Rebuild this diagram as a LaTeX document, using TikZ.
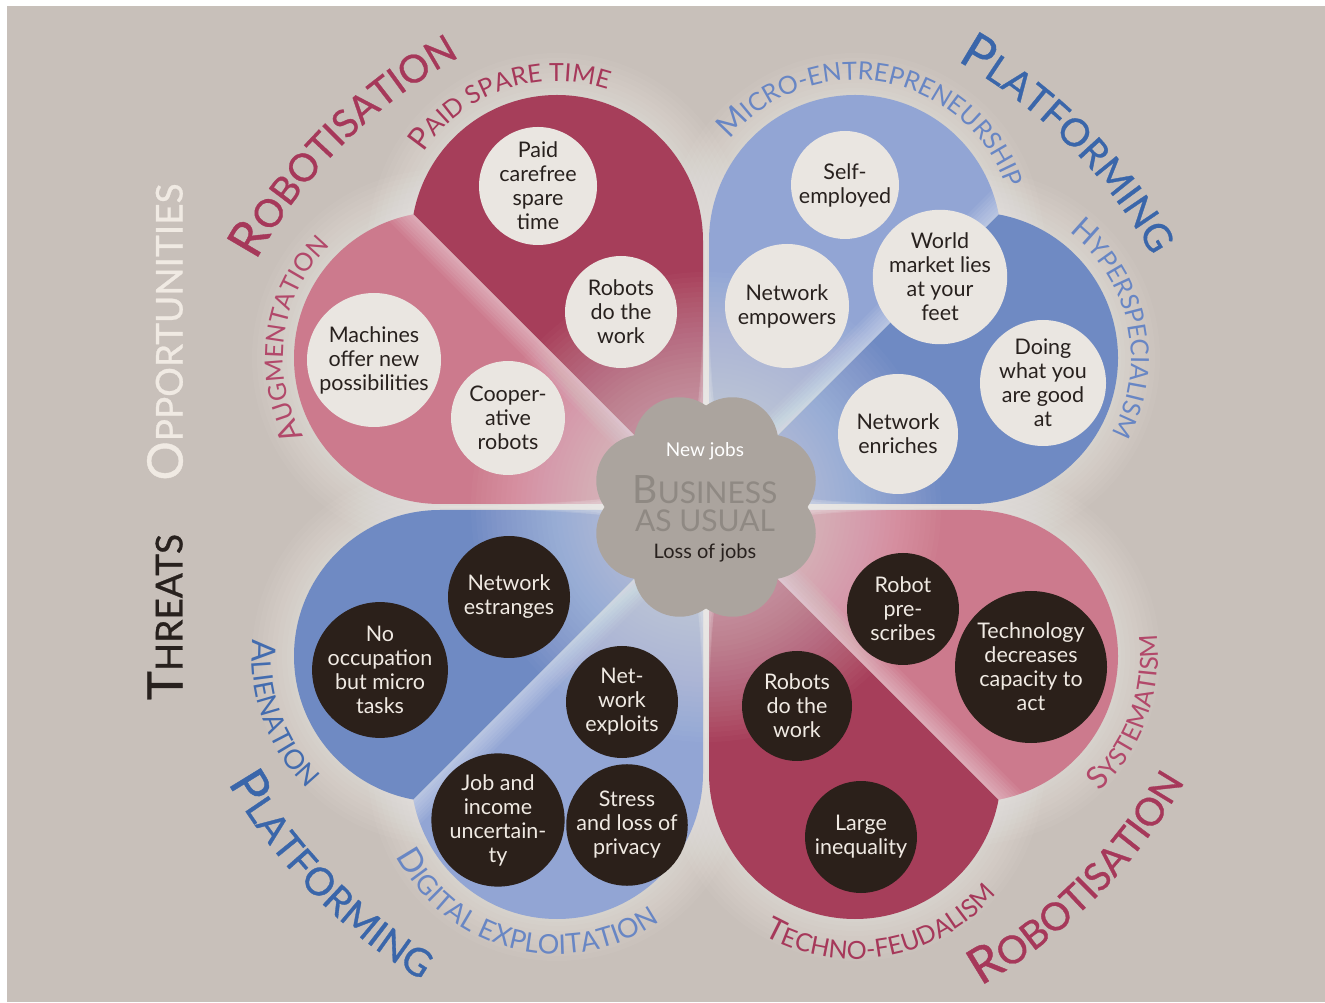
\documentclass[tikz,border=0pt]{standalone}
\usepackage{fontspec}
\setmainfont{Lato}
\newfontfamily\tfont{Lato}[FakeBold=0.8]
\usetikzlibrary{decorations.text}
\definecolor{bgc}{RGB}{200,192,186}
\definecolor{dred}{RGB}{166,62,90}
\definecolor{pinkc}{RGB}{204,122,141}
\definecolor{lblue}{RGB}{146,165,212}
\definecolor{mblue}{RGB}{111,138,195}
\definecolor{lightc}{RGB}{234,230,225}
\definecolor{darkc}{RGB}{43,32,26}
\definecolor{cloudc}{RGB}{171,164,158}
\definecolor{busc}{RGB}{143,137,131}
\definecolor{tred}{RGB}{166,56,90}
\definecolor{tpink}{RGB}{178,72,106}
\definecolor{tblue}{RGB}{58,102,170}
\definecolor{lbtxt}{RGB}{104,134,196}
\definecolor{txtlight}{RGB}{240,234,227}
\definecolor{txtdark}{RGB}{40,33,30}
\newcommand\TB{\tfont\fontsize{50}{50}\selectfont}
\newcommand\TS{\tfont\fontsize{38.5}{38.5}\selectfont}
\newcommand\LB{\fontsize{31}{31}\selectfont}
\newcommand\LS{\fontsize{25}{25}\selectfont}
\newcommand\LBB{\fontsize{33}{33}\selectfont}
\newcommand\LSS{\fontsize{27}{27}\selectfont}
\newcommand\OB{\tfont\fontsize{49}{49}\selectfont}
\newcommand\OS{\tfont\fontsize{37}{37}\selectfont}
\newcommand\ctext{\fontsize{21.5}{24}\selectfont}
\newcommand\lobeV{(-3,3) -- (-3,266) arc[start angle=0,end angle=169.5,radius=146] -- cycle}
\newcommand\lobeH{(-3,3) -- (-266,3) arc[start angle=270,end angle=100.5,radius=146] -- cycle}
\newcommand\diagband{\foreach \w in {44,38,32,26,20,14,8,4}{\draw[white,line width=\w,opacity=0.06] (0,0) -- (-320,320);}}
\tikzset{
  lc/.style={circle, fill=lightc, text=txtdark, align=center, inner sep=0pt, font=\ctext},
  dc/.style={circle, fill=darkc, text=txtlight, align=center, inner sep=0pt, font=\ctext},
}
\begin{document}
\begin{tikzpicture}[x=1pt,y=1pt]
\useasboundingbox (0,0) rectangle (1325,1002);
\fill[white] (0,0) rectangle (1325,1002);
\fill[bgc] (7,0) rectangle (1325,996);
\coordinate (C) at (706,495);
% halos
\foreach \sx/\sy in {1/1,-1/1,1/-1,-1/-1}{
 \begin{scope}[shift={(706,495)}, xscale=\sx, yscale=\sy]
  \foreach \w in {84,74,64,54,44,34,24,14,6}{
    \draw[white, line width=\w, opacity=0.045] \lobeV;
    \draw[white, line width=\w, opacity=0.045] \lobeH;
  }
 \end{scope}}
% petals
\begin{scope}[shift={(706,495)}]
 \fill[dred] \lobeV; \fill[pinkc] \lobeH;
 \begin{scope}\clip \lobeH; \diagband \end{scope}
\end{scope}
\begin{scope}[shift={(706,495)}, xscale=-1]
 \fill[lblue] \lobeV; \fill[mblue] \lobeH;
 \begin{scope}\clip \lobeV; \diagband \end{scope}
\end{scope}
\begin{scope}[shift={(706,495)}, yscale=-1]
 \fill[lblue] \lobeV; \fill[mblue] \lobeH;
 \begin{scope}\clip \lobeV; \diagband \end{scope}
\end{scope}
\begin{scope}[shift={(706,495)}, xscale=-1, yscale=-1]
 \fill[dred] \lobeV; \fill[pinkc] \lobeH;
 \begin{scope}\clip \lobeH; \diagband \end{scope}
\end{scope}
% center glow
\foreach \r in {105,110,...,235} \fill[white, opacity=0.022] (C) circle (\r);
% axis glow (tapered)
\foreach \l/\w in {320/5,280/9,240/13,200/17,170/21,140/25,120/29}{
  \fill[white, opacity=0.07] ([yshift=\l]C) -- ([xshift=\w]C) -- ([yshift=-\l]C) -- ([xshift=-\w]C) -- cycle;
  \fill[white, opacity=0.07] ([xshift=\l]C) -- ([yshift=\w]C) -- ([xshift=-\l]C) -- ([yshift=-\w]C) -- cycle;
}
% circles TL
\node[lc, minimum size=118] (pc) at (538,816) {Paid\\carefree\\spare\\time};
\node[lc, minimum size=112] (rw1) at (621,690) {Robots\\do the\\work};
\node[lc, minimum size=134] (mach) at (374,642) {Machines\\offer new\\possibilities};
\node[lc, minimum size=114] (coop) at (508,584) {Cooper-\\ative\\robots};
% TR
\node[lc, minimum size=108] (self) at (845,817) {Self-\\employed};
\node[lc, minimum size=134] (world) at (940,725) {World\\market lies\\at your\\feet};
\node[lc, minimum size=124] (nemp) at (787,696) {Network\\empowers};
\node[lc, minimum size=126] (doing) at (1043,619) {Doing\\what you\\are good\\at};
\node[lc, minimum size=120] (nenr) at (898,568) {Network\\enriches};
% BL
\node[dc, minimum size=122] (nest) at (509,405) {Network\\estranges};
\node[dc, minimum size=130] (nocc) at (380,332) {No\\occupation\\but micro\\tasks};
\node[dc, minimum size=112] (nexp) at (622,300) {Net-\\work\\exploits};
\node[dc, minimum size=132] (job) at (498,182) {Job and\\income\\uncertain-\\ty};
\node[dc, minimum size=120] (stress) at (627,177) {Stress\\and loss of\\privacy};
% BR
\node[dc, minimum size=112] (rpre) at (903,393) {Robot\\pre-\\scribes};
\node[dc, minimum size=152] (tech) at (1031,335) {Technology\\decreases\\capacity to\\act};
\node[dc, minimum size=110] (rw2) at (797,296) {Robots\\do the\\work};
\node[dc, minimum size=112] (large) at (861,165) {Large\\inequality};
% cloud
\fill[cloudc] (C) circle (82);
\foreach \a in {22.5,67.5,...,337.5} \fill[cloudc] ([shift={(\a:69)}]C) circle (46);
\node[text=white, font=\fontsize{19}{19}\selectfont] (newjobs) at (705,551) {New jobs};
\node[text=busc] (bus) at (705,512) {{\fontsize{39}{39}\selectfont B}{\fontsize{30}{30}\selectfont USINESS}};
\node[text=busc, font=\fontsize{30}{30}\selectfont] (asu) at (705,481) {AS USUAL};
\node[text=txtdark, font=\fontsize{20}{20}\selectfont] (loss) at (705,449) {Loss of jobs};
% left labels
\node[rotate=90, text=txtlight] (opp) at (165,670) {{\OB O}{\OS PPORTUNITIES}};
\node[rotate=90, text=txtdark] (thr) at (165,385) {{\OB T}{\OS HREATS}};
% titles
\path[decorate, decoration={text along path, text align=center, text color=tred, text={|\TB|R|\TS|OBOTISATION}}] ([shift={(170:513)}]C) arc[start angle=170, end angle=100, radius=513];
\path[decorate, decoration={text along path, text align=center, text color=tblue, text={|\TB|P|\TS|LATFORMING}}] ([shift={(80:512)}]C) arc[start angle=80, end angle=10, radius=512];
\path[decorate, decoration={text along path, text align=center, text color=tblue, text={|\TB|P|\TS|LATFORMING}}] ([shift={(189:552)}]C) arc[start angle=189, end angle=260, radius=552];
\path[decorate, decoration={text along path, text align=center, text color=tred, text={|\TB|R|\TS|OBOTISATION}}] ([shift={(280:552)}]C) arc[start angle=280, end angle=350, radius=552];
% lobe labels
\path[decorate, decoration={text along path, text align=center, text color=tred, text={|\LB|P|\LS|AID SPARE TIME}}] ([shift={(162:160)}]557,761) arc[start angle=162, end angle=56, radius=160];
\path[decorate, decoration={text along path, text align=center, text color=tpink, text={|\LB|A|\LS|UGMENTATION}}] ([shift={(225:157)}]440,644) arc[start angle=225, end angle=119, radius=157];
\path[decorate, decoration={text along path, text align=center, text color=lbtxt, text={|\LB|M|\LS|ICRO-ENTREPRENEURSHIP}}] ([shift={(155:161)}]855,761) arc[start angle=155, end angle=5, radius=161];
\path[decorate, decoration={text along path, text align=center, text color=lbtxt, text={|\LB|H|\LS|YPERSPECIALISM}}] ([shift={(65:159)}]972,644) arc[start angle=65, end angle=-41, radius=159];
\path[decorate, decoration={text along path, text align=center, text color=tblue!80!lbtxt, text={|\LBB|A|\LSS|LIENATION}}] ([shift={(144:188)}]440,346) arc[start angle=144, end angle=256, radius=188];
\path[decorate, decoration={text along path, text align=center, text color=lbtxt, text={|\LBB|D|\LSS|IGITAL EXPLOITATION}}] ([shift={(189:181)}]557,229) arc[start angle=189, end angle=323, radius=181];
\path[decorate, decoration={text along path, text align=center, text color=tred, text={|\LB|T|\LS|ECHNO-FEUDALISM}}] ([shift={(222:186)}]855,229) arc[start angle=222, end angle=338, radius=186];
\path[decorate, decoration={text along path, text align=center, text color=tpink, text={|\LB|S|\LS|YSTEMATISM}}] ([shift={(288:186)}]972,346) arc[start angle=288, end angle=392, radius=186];
\end{tikzpicture}
\end{document}
